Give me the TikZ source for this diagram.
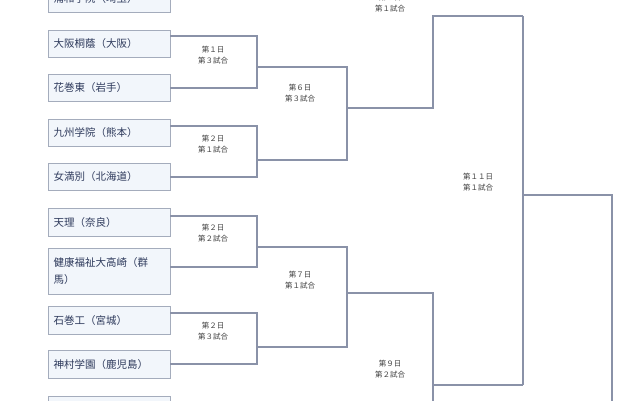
\documentclass[tikz,border=0pt]{standalone}
\usepackage{fontspec}
\setmainfont{Noto Sans CJK JP}
\definecolor{ln}{HTML}{8A92A8}
\definecolor{bx}{HTML}{F2F6FB}
\definecolor{bd}{HTML}{A4ACBC}
\definecolor{tx}{HTML}{2E3A5C}
\begin{document}
\begin{tikzpicture}[x=1pt,y=-1pt,
 team/.style={draw=bd,fill=bx,line width=1pt,minimum width=122pt,text width=112pt,align=left,anchor=north west,inner sep=4pt,font=\fontsize{10.5}{17}\selectfont,text=tx},
 lbl/.style={font=\fontsize{7.5}{11}\selectfont,align=center,text=black!75},
 br/.style={draw=ln,line width=1.8pt}]
\useasboundingbox (0,0) rectangle (640,400);
\clip (0,0) rectangle (640,400);
\node[team,minimum height=27pt] (t1) at (48,-15) {浦和学院（埼玉）};
\node[team,minimum height=27pt] (t2) at (48,30) {大阪桐蔭（大阪）};
\node[team,minimum height=27pt] (t3) at (48,74) {花巻東（岩手）};
\node[team,minimum height=27pt] (t4) at (48,119) {九州学院（熊本）};
\node[team,minimum height=27pt] (t5) at (48,163) {女満別（北海道）};
\node[team,minimum height=28pt] (t6) at (48,208) {天理（奈良）};
\node[team,minimum height=46pt] (t7) at (48,248) {健康福祉大高崎（群\\馬）};
\node[team,minimum height=28pt] (t8) at (48,306) {石巻工（宮城）};
\node[team,minimum height=28pt] (t9) at (48,350) {神村学園（鹿児島）};
\node[team,minimum height=28pt] (t10) at (48,396) {};
% round 1
\draw[br] (170,36) -| (257,88) -- (170,88);
\draw[br] (170,126) -| (257,177) -- (170,177);
\draw[br] (170,216) -| (257,267) -- (170,267);
\draw[br] (170,313) -| (257,364) -- (170,364);
% round 2
\draw[br] (257,67) -| (347,160) -- (257,160);
\draw[br] (257,247) -| (347,347) -- (257,347);
% round 3
\draw[br] (347,108) -| (433,16) -- (523,16);
\draw[br] (347,293) -| (433,410);
\draw[br] (433,385) -- (523,385);
% round 4
\draw[br] (523,16) -- (523,385);
\draw[br] (523,195) -| (612,410);
\node[lbl] (l1) at (213,55) {第１日\\第３試合};
\node[lbl] (l2) at (213,144) {第２日\\第１試合};
\node[lbl] (l3) at (300,93) {第６日\\第３試合};
\node[lbl] (l4) at (213,233) {第２日\\第２試合};
\node[lbl] (l5) at (300,280) {第７日\\第１試合};
\node[lbl] (l6) at (213,331) {第２日\\第３試合};
\node[lbl] (l7) at (390,369) {第９日\\第２試合};
\node[lbl] (l8) at (478,182) {第１１日\\第１試合};
\node[lbl] (l9) at (390,3) {第８日\\第１試合};
\end{tikzpicture}
\end{document}
